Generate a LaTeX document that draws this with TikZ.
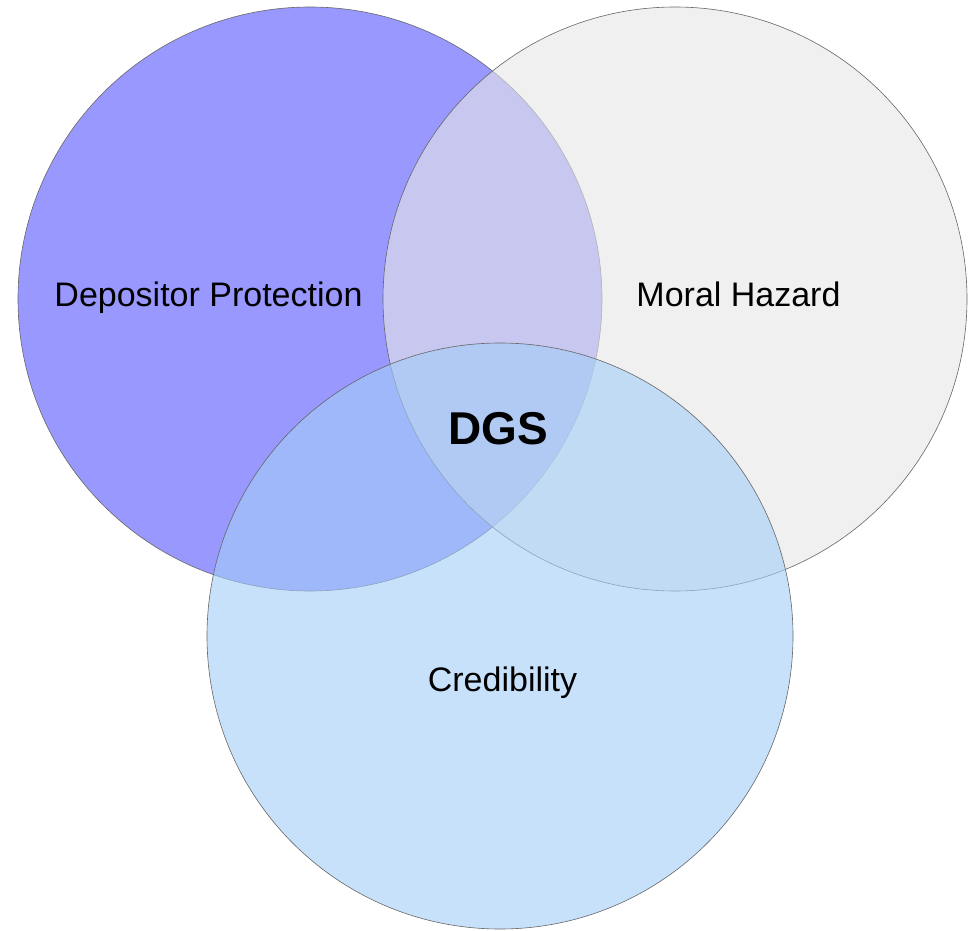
\documentclass[tikz,border=0pt]{standalone}
\usepackage{fontspec}
\setmainfont{Liberation Sans}
\definecolor{protect}{RGB}{83,83,255}
\definecolor{hazard}{RGB}{230,230,230}
\definecolor{credible}{RGB}{163,205,247}
\tikzset{
  venn/.style={draw=gray!80!black, line width=0.6pt, fill opacity=0.6},
  setname/.style={anchor=base, inner sep=0pt, font=\fontsize{34}{40}\selectfont}
}
\begin{document}
\begin{tikzpicture}[x=1pt,y=-1pt]
        \useasboundingbox (0,0) rectangle (977,931);
        \filldraw [venn, fill=protect] (310,299) circle (292pt);
        \filldraw [venn, fill=hazard] (675,299) circle (292pt);
        \filldraw [venn, fill=credible] (500,636) circle (293pt);

        \node [setname] (protection) at (208.5,306) {Depositor Protection};
        \node [setname] (hazard) at (738.5,306) {Moral Hazard};
        \node [setname] (credibility) at (502.5,691) {Credibility};
        \node [setname, font=\fontsize{46}{52}\selectfont\bfseries] (dgs) at (498.5,444) {DGS};
      \end{tikzpicture}
\end{document}
